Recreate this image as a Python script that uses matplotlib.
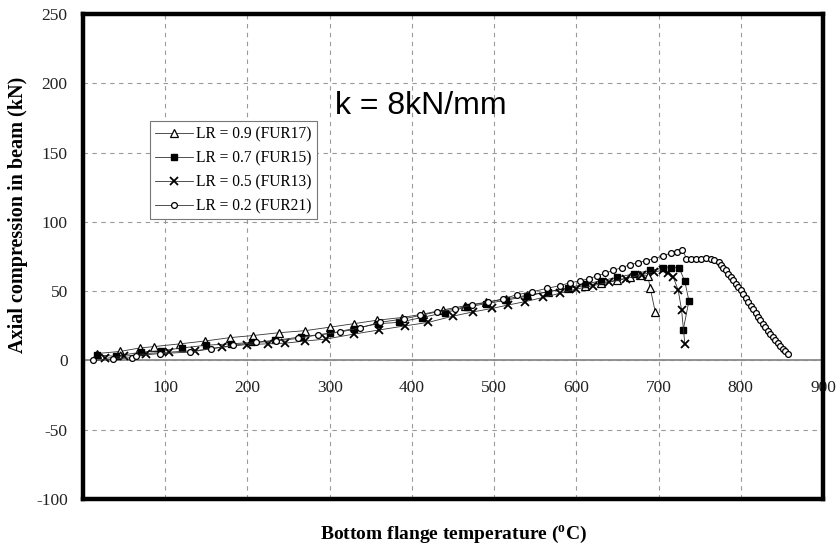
import matplotlib.pyplot as plt

# === data ===
lr09_temp = [17, 45, 69, 86, 118, 148, 179, 207, 238, 270, 300, 329, 357, 388, 414,
             438, 465, 490, 515, 540, 565, 590, 610, 630, 650, 665, 678, 687, 690, 696]
lr09_force = [5, 6.5, 9, 10, 12, 14, 16.5, 18, 20, 21.5, 24, 26.5, 29, 31, 33.5,
              36.5, 39.5, 42, 44.5, 47, 49.5, 52, 54, 56, 58, 60, 61.5, 61, 52, 35]

lr07_temp = [17, 40, 70, 95, 120, 150, 180, 205, 234, 265, 300, 329, 359, 384, 412,
             440, 467, 490, 515, 540, 565, 590, 610, 630, 650, 670, 690, 705, 715, 725,
             732, 737, 730]
lr07_force = [4, 3, 6, 7, 9, 11, 12, 13, 14.5, 17, 19.5, 23, 26.5, 27.5, 31,
              34.5, 38.5, 41, 43.5, 46.5, 49.5, 52.5, 55, 57.5, 60, 62.5, 65, 66.5, 67, 67,
              57, 43, 22]

lr05_temp = [27, 50, 77, 104, 136, 169, 199, 225, 246, 270, 296, 329, 360, 392, 420,
             450, 474, 497, 517, 538, 560, 580, 600, 620, 640, 660, 680, 695, 705, 712,
             718, 724, 728, 732]
lr05_force = [1.5, 3, 5, 6, 7, 9.5, 11.5, 12, 12.5, 14, 15.5, 19, 22, 25, 27.5,
              32, 35, 37.5, 40, 42.5, 45.5, 48.5, 51.5, 54, 56.5, 59, 62, 64, 65, 63,
              60, 50.5, 36.6, 12]

lr02_temp = [12, 37, 59, 65, 94, 130, 156, 183, 210, 235, 262, 286, 313, 337, 361,
             390, 410, 430, 452, 473, 493, 511, 528, 546, 564, 580, 592, 605, 615, 625,
             635, 645, 655, 665, 675, 685, 695, 705, 715, 722, 729,
             734, 740, 746, 752, 758, 764, 768, 773, 776, 779, 782, 785, 788, 791, 794,
             797, 800, 803, 806, 809, 812, 815, 818, 821, 824, 827, 830, 833, 836, 839,
             842, 845, 848, 851, 854, 857]
lr02_force = [0, 1, 2, 3.5, 5, 6, 8.5, 11, 13, 14, 16, 18.5, 20.5, 23.5, 27.5,
              30, 32.5, 35, 37, 40, 42, 44.5, 47.5, 49.5, 52, 54, 56, 57.5, 59, 61,
              63, 65, 67, 69, 70.5, 72, 73.5, 75.5, 77.5, 78.5, 80,
              73.5, 73, 73, 73.5, 74, 73.5, 72.5, 71, 69, 67, 65, 62.5, 60, 58, 55.5,
              53, 51, 48, 45, 42, 39.5, 37, 34, 31.5, 29, 26.5, 24, 21.5, 19, 17,
              14.5, 12.5, 10.5, 8.5, 6.5, 5]

x_ticks = [100, 200, 300, 400, 500, 600, 700, 800, 900]
y_ticks = [-100, -50, 0, 50, 100, 150, 200, 250]

serif = ['Liberation Serif', 'DejaVu Serif']
plt.rcParams['axes.unicode_minus'] = False

fig = plt.figure(figsize=(8.36, 5.53), dpi=100)
ax = fig.add_axes([0.0993, 0.0976, 0.8851, 0.877])

line_kw = dict(color='#333333', linewidth=0.6, markeredgecolor='black')
ax.plot(lr09_temp, lr09_force, marker='^', markersize=5.5, markerfacecolor='white',
        markeredgewidth=0.9, label='LR = 0.9 (FUR17)', **line_kw)
ax.plot(lr07_temp, lr07_force, marker='s', markersize=4.5, markerfacecolor='black',
        label='LR = 0.7 (FUR15)', **line_kw)
ax.plot(lr05_temp, lr05_force, marker='x', markersize=6, markeredgewidth=1.3,
        label='LR = 0.5 (FUR13)', **line_kw)
ax.plot(lr02_temp, lr02_force, marker='o', markersize=4.2, markerfacecolor='white',
        markeredgewidth=0.9, label='LR = 0.2 (FUR21)', **line_kw)

ax.set_xlim(0, 900)
ax.set_ylim(-100, 250)
ax.set_xticks(x_ticks)
ax.set_yticks(y_ticks)
ax.tick_params(axis='x', length=0, labelbottom=False)
ax.tick_params(axis='y', length=0, pad=11, labelsize=12.5)
for lab in ax.get_yticklabels():
    lab.set_fontfamily(serif)
    lab.set_color('#222222')

# grid + zero line
ax.grid(True, color='#9a9a9a', linestyle=(0, (4, 4)), linewidth=0.8)
ax.set_axisbelow(True)
ax.axhline(0, color='#8a8a8a', linewidth=1.3, zorder=1)

# x tick labels sit just under the zero line
for t in x_ticks:
    ax.text(t, -14, str(t), ha='center', va='top', fontsize=12.5,
            family=serif, color='#222222', zorder=1)

for side in ['left', 'right', 'top', 'bottom']:
    ax.spines[side].set_linewidth(3.2)
    ax.spines[side].set_color('black')

ax.text(0.341, 0.81, 'k = 8kN/mm', transform=ax.transAxes, fontsize=23,
        family=['Liberation Sans', 'DejaVu Sans'], va='center', ha='left')

leg = ax.legend(loc='upper left', bbox_to_anchor=(0.0905, 0.779), borderaxespad=0,
                fancybox=False, edgecolor='#777777', framealpha=1,
                prop={'family': serif, 'size': 11.2}, handlelength=2.4,
                handletextpad=0.2, labelspacing=0.5, borderpad=0.35)
leg.get_frame().set_linewidth(0.8)

fig.text(0.0215, 0.611, 'Axial compression in beam (kN)', rotation=90, ha='center',
         va='center', fontsize=14.5, fontweight='bold', family=serif)
fig.text(0.542, 0.033, r'Bottom flange temperature ($^{\mathregular{o}}$C)', ha='center',
         va='center', fontsize=14, fontweight='bold', family=serif)

plt.savefig('out.png', dpi=100)
plt.close()
